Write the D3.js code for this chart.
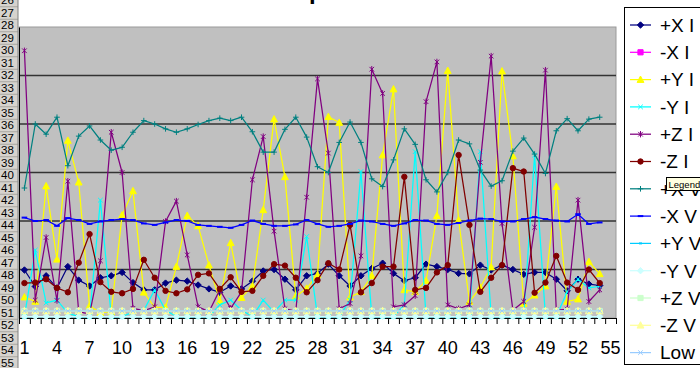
<!DOCTYPE html>
<html><head><meta charset="utf-8">
<script src="https://cdn.jsdelivr.net/npm/d3@7"></script>
<style>
body{margin:0;background:#fff;overflow:hidden;}
svg{display:block;font-family:Arial,"Liberation Sans",sans-serif;}
</style>
</head><body>
<svg id="chart" width="700" height="368"></svg>
<script>
// ---------- DATA ----------
const categories = [1,2,3,4,5,6,7,8,9,10,11,12,13,14,15,16,17,18,19,20,21,22,23,24,25,26,27,28,29,30,31,32,33,34,35,36,37,38,39,40,41,42,43,44,45,46,47,48,49,50,51,52,53,54,55];
const xTickLabels = [1,4,7,10,13,16,19,22,25,28,31,34,37,40,43,46,49,52,55];
const rowLabels = [26,27,28,29,30,31,32,33,34,35,36,37,38,39,40,41,42,43,44,45,46,47,48,49,50,51,52,53,54,55];
const yGridValues = [10,20,30,40,50];
const seriesNames = ["+X I","-X I","+Y I","-Y I","+Z I","-Z I","+X V","-X V","+Y V","-Y V","+Z V","-Z V","Low V"];
const seriesColors = ["#000080","#FF00FF","#FFFF00","#00FFFF","#800080","#800000","#008080","#0000FF","#00CCFF","#CCFFFF","#CCFFCC","#FFFF99","#99CCFF"];
const seriesMarkers = ["diamond","square","triangle","x","star","circle","plus","dash","dot","diamond","square","triangle","x"];

const plusXI = [9.9,6.5,8.7,6.2,10.6,7.8,6.6,8.3,8.7,9.4, 7.3,5.8,5.8,7.2,7.8,7.6,6.8,6.0,5.3,6.6, 6.0,7.6,9.7,10.0,8.0,5.8,8.7,9.2,11.1,8.7, 6.6,8.7,10.2,11.3,9.2,7.7,8.3,11.1,10.6,10.0, 9.2,9.1,10.9,9.9,10.9,10.0,9.0,9.4,9.4,8.0, 5.6,8.0,7.0,6.7];
const minusXI = [];
const plusYI = [4.3,3.4,27.2,12.1,36.6,28.0,2.5,1.1,1.3,21.2, 26.2,5.3,2.2,2.2,10.6,21.1,19.0,10.9,3.5,15.5, 4.2,6.6,22.3,41.0,29.1,4.5,6.1,8.9,41.5,40.3, 4.3,5.4,8.7,33.6,47.2,5.8,5.4,7.7,21.1,51.0, 20.2,3.4,6.3,10.5,50.9,33.4,3.0,4.7,6.6,27.1, 3.4,3.9,11.6,9.1];
const minusYI = [0.3,14.0,3.1,3.7,1.0,0.3,0.3,24.3,0.3,0.3, 1.2,1.6,5.8,1.6,0.3,0.3,0.3,0.3,2.7,3.7, 1.6,0.3,3.7,1.2,3.7,3.7,16.8,0.3,0.3,0.3, 3.7,30.2,0.3,0.3,0.3,2.7,34.3,0.3,0.3,0.3, 0.3,0.3,34.3,0.3,0.3,0.3,0.3,33.6,0.3,0.3, 5.4,8.0,6.2,6.5];
const plusZI = [55.1,3.7,16.6,3.6,28.2,1.3,0.8,11.8,38.3,30.0, 2.0,1.5,2.3,19.9,24.1,13.0,2.3,1.3,5.8,2.0, 5.4,28.5,37.4,17.9,1.9,1.4,24.9,49.3,34.0,1.9, 3.0,12.8,51.3,46.3,2.3,2.7,4.6,44.6,52.8,2.7, 1.9,2.7,32.1,54.0,19.5,1.6,3.4,18.7,51.1,1.6, 1.8,24.3,3.4,5.8];
const minusZI = [7.2,7.3,8.0,6.2,5.3,11.4,17.3,7.4,5.4,5.1, 6.0,12.0,8.3,5.6,5.1,5.9,8.9,9.2,6.0,8.4, 5.4,5.6,8.7,11.1,10.8,8.3,5.3,7.8,11.3,10.0, 19.2,5.3,7.2,10.6,10.6,29.1,5.8,6.2,9.4,10.9, 33.6,19.2,5.4,8.3,10.9,30.9,30.2,5.2,7.3,12.8, 7.3,5.8,10.0,7.2];
const plusXV = [26.8,40.0,37.9,41.4,31.4,37.5,39.6,36.7,34.6,35.2, 38.3,40.7,40.0,39.0,38.3,39.0,39.9,40.7,41.2,40.7, 41.4,38.4,34.2,34.2,38.9,41.4,37.3,31.2,30.0,36.2, 40.4,36.2,28.7,27.1,32.6,39.0,35.8,28.5,26.0,30.0, 36.7,35.9,30.5,27.2,28.3,34.4,37.1,33.8,29.8,38.6, 41.1,38.6,41.0,41.4];
const minusXV = [20.7,20.0,20.2,19.0,20.6,20.2,19.4,19.9,20.2,20.4, 20.2,19.5,19.2,19.7,20.2,20.0,19.2,19.0,18.8,18.6, 19.2,20.1,19.4,19.0,19.0,19.3,20.2,19.4,18.8,19.0, 19.4,20.1,19.9,19.4,19.0,19.5,20.2,20.1,19.4,19.2, 19.6,20.1,20.5,20.4,19.9,19.9,20.4,20.8,20.4,20.1, 19.9,21.4,19.4,19.7];
const plusYV = [0.3,0.3,0.3,0.3,0.3,0.3,0.3,0.3,0.3,0.3, 0.3,0.3,0.3,0.3,0.3,0.3,0.3,0.3,0.3,0.3, 0.3,0.3,0.3,0.3,0.3,0.3,0.3,0.3,0.3,0.3, 0.3,0.3,0.3,0.3,0.3,0.3,0.3,0.3,0.3,0.3, 0.3,0.3,0.3,0.3,0.3,0.3,0.3,0.3,0.3,0.3, 0.3,0.3,0.3,0.3];
const minusYV = [0.3,0.3,0.3,0.3,0.3,0.3,0.3,0.3,0.3,0.3, 0.3,0.3,0.3,0.3,0.3,0.3,0.3,0.3,0.3,0.3, 0.3,0.3,0.3,0.3,0.3,0.3,0.3,0.3,0.3,0.3, 0.3,0.3,0.3,0.3,0.3,0.3,0.3,0.3,0.3,0.3, 0.3,0.3,0.3,0.3,0.3,0.3,0.3,0.3,0.3,0.3, 0.3,0.3,0.3,0.3];
const plusZV = [1.45,1.45,1.45,1.45,1.45,1.45,1.45,1.45,1.45,1.45, 1.45,1.45,1.45,1.45,1.45,1.45,1.45,1.45,1.45,1.45, 1.45,1.45,1.45,1.45,1.45,1.45,1.45,1.45,1.45,1.45, 1.45,1.45,1.45,1.45,1.45,1.45,1.45,1.45,1.45,1.45, 1.45,1.45,1.45,1.45,1.45,1.45,1.45,1.45,1.45,1.45, 1.45,1.45,1.45,1.45];
const minusZV = [1.45,1.45,1.45,1.45,1.45,1.45,1.45,1.45,1.45,1.45, 1.45,1.45,1.45,1.45,1.45,1.45,1.45,1.45,1.45,1.45, 1.45,1.45,1.45,1.45,1.45,1.45,1.45,1.45,1.45,1.45, 1.45,1.45,1.45,1.45,1.45,1.45,1.45,1.45,1.45,1.45, 1.45,1.45,1.45,1.45,1.45,1.45,1.45,1.45,1.45,1.45, 1.45,1.45,1.45,1.45];
const lowV = [1.45,1.45,1.45,1.45,1.45,1.45,1.45,1.45,1.45,1.45, 1.45,1.45,1.45,1.45,1.45,1.45,1.45,1.45,1.45,1.45, 1.45,1.45,1.45,1.45,1.45,1.45,1.45,1.45,1.45,1.45, 1.45,1.45,1.45,1.45,1.45,1.45,1.45,1.45,1.45,1.45, 1.45,1.45,1.45,1.45,1.45,1.45,1.45,1.45,1.45,1.45, 1.45,1.45,1.45,1.45];

const seriesValues = [plusXI,minusXI,plusYI,minusYI,plusZI,minusZI,plusXV,minusXV,plusYV,minusYV,plusZV,minusZV,lowV];

// ---------- LAYOUT ----------
const svg = d3.select("#chart");
const plot = {left:19, right:616, top:27, bottom:318};

const x = d3.scaleBand().domain(categories).range([plot.left, plot.right]).padding(0);
const xEdge = d3.scaleLinear().domain([0, categories.length]).range([plot.left, plot.right]);
const y = d3.scaleLinear().domain([0, 60]).range([plot.bottom, plot.top]);
const cx = c => x(c) + x.bandwidth()/2;

// title fragment (cut off at top of the view)
svg.append("text").attr("x", 309).attr("y", -1)
  .attr("font-size", 24).attr("font-weight", "bold").attr("fill", "#000").text("p");

// plot area
svg.append("rect").attr("x", plot.left).attr("y", plot.top)
  .attr("width", plot.right - plot.left).attr("height", plot.bottom - plot.top)
  .attr("fill", "#C0C0C0").attr("stroke", "#9a9a9a").attr("stroke-width", 1);

// gridlines
svg.append("g").selectAll("line").data(yGridValues).join("line")
  .attr("x1", plot.left).attr("x2", plot.right)
  .attr("y1", d => y(d)).attr("y2", d => y(d))
  .attr("stroke", "#333").attr("stroke-width", 1.5);

// y axis line
svg.append("g").attr("transform", `translate(${plot.left},0)`)
  .call(d3.axisLeft(y).tickValues([]).tickSizeOuter(0))
  .call(g => g.select(".domain").attr("stroke", "#000"));

// x axis with tick marks at category boundaries
svg.append("g").attr("transform", `translate(0,${plot.bottom})`)
  .call(d3.axisBottom(xEdge).tickValues(d3.range(0, categories.length + 1)).tickFormat("").tickSize(6).tickSizeOuter(0))
  .call(g => g.select(".domain").attr("stroke", "#000"))
  .call(g => g.selectAll(".tick line").attr("stroke", "#000"));

svg.append("g").selectAll("text").data(xTickLabels).join("text")
  .attr("x", d => cx(d)).attr("y", 354)
  .attr("text-anchor", "middle").attr("font-size", 18).attr("fill", "#000")
  .text(d => d);

// markers
function markerPath(type) {
  switch (type) {
    case "diamond": return "M0,-3.2L3.2,0L0,3.2L-3.2,0Z";
    case "square": return "M-2.6,-2.6H2.6V2.6H-2.6Z";
    case "triangle": return "M0,-3.6L3.4,2.8L-3.4,2.8Z";
    case "x": return "M-2.3,-2.3L2.3,2.3M-2.3,2.3L2.3,-2.3";
    case "star": return "M-2.3,-2.3L2.3,2.3M-2.3,2.3L2.3,-2.3M0,-3.2V3.2";
    case "circle": return "M-2.7,0A2.7,2.7 0 1,0 2.7,0A2.7,2.7 0 1,0 -2.7,0Z";
    case "plus": return "M-2.8,0H2.8M0,-2.8V2.8";
    case "dash": return "M-2.8,0H2.8";
    case "dot": return "M-1.5,0H1.5";
  }
}
const filled = t => ["diamond","square","triangle","circle"].includes(t);

const line = d3.line().defined(d => d != null).x((d, i) => cx(categories[i])).y(d => y(d));

seriesValues.forEach((vals, k) => {
  const g = svg.append("g").attr("class", "series");
  const col = seriesColors[k], mk = seriesMarkers[k];
  g.append("path").datum(vals).attr("d", line)
    .attr("fill", "none").attr("stroke", col).attr("stroke-width", 1.25).attr("stroke-linejoin", "round");
  g.selectAll("path.m").data(vals.map((v, i) => ({v, c: categories[i]})).filter(d => d.v != null)).join("path")
    .attr("class", "m")
    .attr("transform", d => `translate(${cx(d.c)},${y(d.v)})`)
    .attr("d", markerPath(mk))
    .attr("fill", filled(mk) ? col : "none")
    .attr("stroke", col)
    .attr("stroke-width", (mk === "dash" || mk === "dot") ? 2 : 1);
});

// spreadsheet row headers (overlapping the chart's left side)
const rowH = 12.5, row28 = 25;
const hdr = svg.append("g");
hdr.append("rect").attr("x", 0).attr("y", 0).attr("width", 18).attr("height", 368).attr("fill", "#d6d3ce");
hdr.selectAll("line.sep").data(rowLabels).join("line").attr("class", "sep")
  .attr("x1", 0).attr("x2", 18)
  .attr("y1", d => row28 + (d - 28) * rowH + rowH/2 + 0.5)
  .attr("y2", d => row28 + (d - 28) * rowH + rowH/2 + 0.5)
  .attr("stroke", "#a8a6a0").attr("stroke-width", 1);
hdr.selectAll("text").data(rowLabels).join("text")
  .attr("x", 1).attr("y", d => row28 + (d - 28) * rowH + 4.3)
  .attr("font-size", 11.5).attr("fill", "#000").text(d => d);
hdr.append("line").attr("x1", 18).attr("x2", 18).attr("y1", 0).attr("y2", 368)
  .attr("stroke", "#808080").attr("stroke-width", 1);

// legend
const leg = svg.append("g");
leg.append("rect").attr("x", 624.5).attr("y", 7.5).attr("width", 100).attr("height", 357)
  .attr("fill", "#fff").attr("stroke", "#000").attr("stroke-width", 1);
seriesNames.forEach((name, k) => {
  const ly = 25 + k * 27.3;
  const col = seriesColors[k], mk = seriesMarkers[k];
  leg.append("line").attr("x1", 630).attr("x2", 651).attr("y1", ly).attr("y2", ly)
    .attr("stroke", col).attr("stroke-width", 1.25);
  leg.append("path").attr("transform", `translate(640.5,${ly})`).attr("d", markerPath(mk))
    .attr("fill", filled(mk) ? col : "none").attr("stroke", col)
    .attr("stroke-width", (mk === "dash" || mk === "dot") ? 2 : 1);
  leg.append("text").attr("x", 660).attr("y", ly).attr("dy", "0.36em")
    .attr("font-size", 19).attr("fill", "#000").text(name);
});

// tooltip
const tip = svg.append("g");
tip.append("rect").attr("x", 666.5).attr("y", 177.5).attr("width", 60).attr("height", 13)
  .attr("fill", "#ffffe1").attr("stroke", "#000").attr("stroke-width", 1);
tip.append("text").attr("x", 668.5).attr("y", 187.5).attr("font-size", 9.5).attr("fill", "#000").text("Legende");
</script>
</body></html>
